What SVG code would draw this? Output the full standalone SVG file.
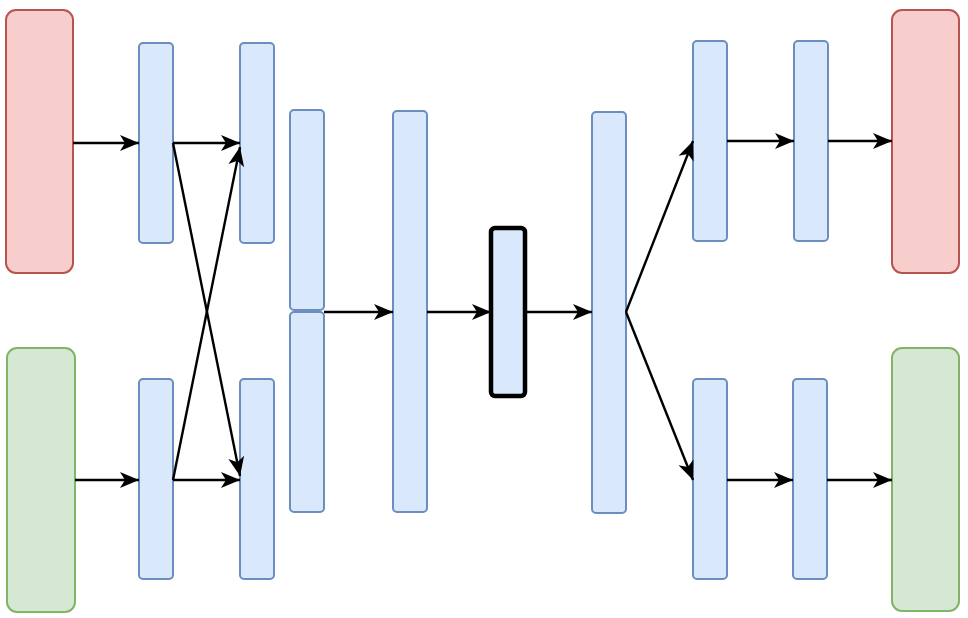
<svg xmlns="http://www.w3.org/2000/svg" width="968" height="618" viewBox="0 0 968 618">
<style>
.b{fill:#dae8fc;stroke:#6c8ebf;stroke-width:2}
.r{fill:#f8cecc;stroke:#b85450;stroke-width:2}
.g{fill:#d5e8d4;stroke:#82b366;stroke-width:2}
.k{fill:#dae8fc;stroke:#000;stroke-width:4.5}
.e{fill:none;stroke:#000;stroke-width:2.4}
</style>
<defs>
<marker id="a" markerUnits="userSpaceOnUse" viewBox="0 0 22 18" markerWidth="22" markerHeight="18" refX="20" refY="9" orient="auto">
<path d="M1,1 L20,9 L1,17 L6,9 Z" fill="#000"/>
</marker>
</defs>
<rect width="968" height="618" fill="#fff"/>
<g id="in_red"><rect class="r" x="6" y="10" width="67" height="263" rx="10"/></g>
<g id="in_green"><rect class="g" x="7" y="348" width="68" height="264" rx="10"/></g>
<g id="c1t"><rect class="b" x="139" y="43" width="34" height="200" rx="4"/></g>
<g id="c2t"><rect class="b" x="240" y="43" width="34" height="200" rx="4"/></g>
<g id="c1b"><rect class="b" x="139" y="379" width="34" height="200" rx="4"/></g>
<g id="c2b"><rect class="b" x="240" y="379" width="34" height="200" rx="4"/></g>
<g id="c3t"><rect class="b" x="290" y="110" width="34" height="200" rx="4"/></g>
<g id="c3b"><rect class="b" x="290" y="312" width="34" height="200" rx="4"/></g>
<g id="c4"><rect class="b" x="393" y="111" width="34" height="401" rx="4"/></g>
<g id="bottleneck"><rect class="k" x="491" y="228" width="34" height="168" rx="4"/></g>
<g id="c5"><rect class="b" x="592" y="112" width="34" height="401" rx="4"/></g>
<g id="c6t"><rect class="b" x="693" y="41" width="34" height="200" rx="4"/></g>
<g id="c7t"><rect class="b" x="794" y="41" width="34" height="200" rx="4"/></g>
<g id="c6b"><rect class="b" x="693" y="379" width="34" height="200" rx="4"/></g>
<g id="c7b"><rect class="b" x="793" y="379" width="34" height="200" rx="4"/></g>
<g id="out_red"><rect class="r" x="892" y="10" width="67" height="263" rx="10"/></g>
<g id="out_green"><rect class="g" x="892" y="348" width="67" height="263" rx="10"/></g>
<g id="connectors" marker-end="url(#a)">
<path class="e" marker-end="url(#a)" d="M73,143 L139,143"/>
<path class="e" marker-end="url(#a)" d="M75,480 L139,480"/>
<path class="e" marker-end="url(#a)" d="M173,143 L240,143"/>
<path class="e" marker-end="url(#a)" d="M173,480 L240,480"/>
<path class="e" marker-end="url(#a)" d="M173,143 L240,476"/>
<path class="e" marker-end="url(#a)" d="M173,480 L240,147"/>
<path class="e" marker-end="url(#a)" d="M324,312 L393,312"/>
<path class="e" marker-end="url(#a)" d="M427,312 L491,312"/>
<path class="e" marker-end="url(#a)" d="M525,312 L592,312"/>
<path class="e" marker-end="url(#a)" d="M626,312 L693,141"/>
<path class="e" marker-end="url(#a)" d="M626,312 L693,480"/>
<path class="e" marker-end="url(#a)" d="M727,141 L794,141"/>
<path class="e" marker-end="url(#a)" d="M828,141 L892,141"/>
<path class="e" marker-end="url(#a)" d="M727,480 L793,480"/>
<path class="e" marker-end="url(#a)" d="M827,480 L892,480"/>
</g>
</svg>
